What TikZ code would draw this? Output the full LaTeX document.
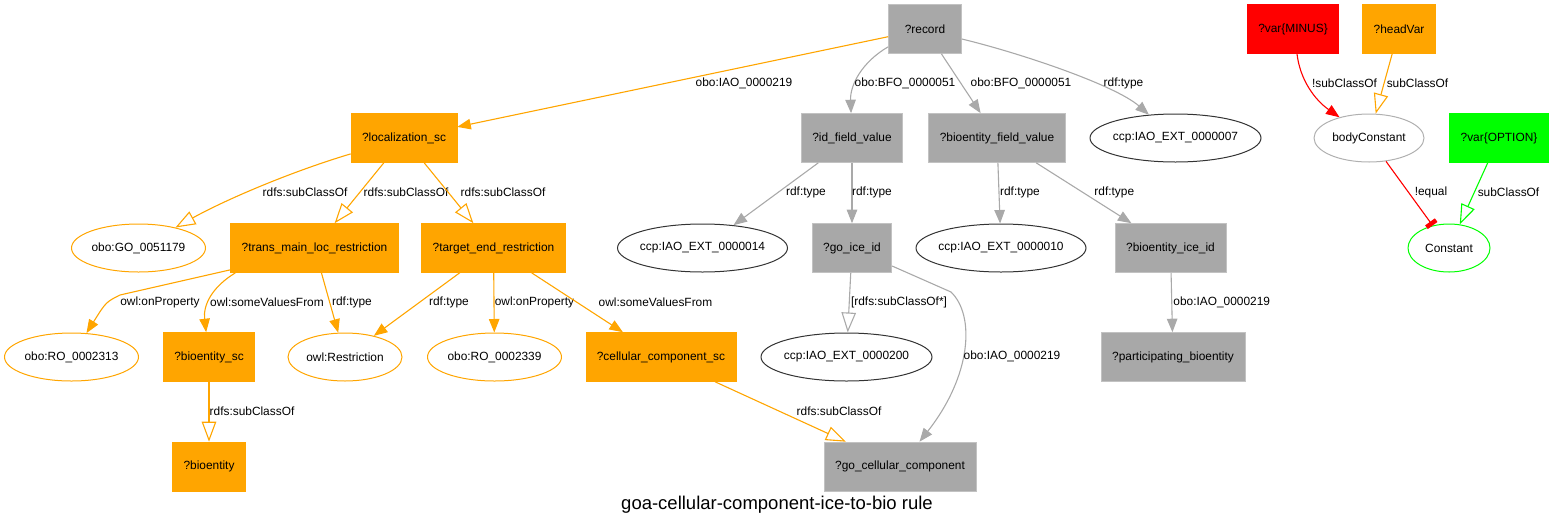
\documentclass[tikz,border=0pt]{standalone}
\usepackage{fontspec}
\setmainfont{Liberation Sans}
\usepackage{xcolor}
\usetikzlibrary{shapes.geometric,arrows.meta,positioning,calc}

\definecolor{nodeorange}{HTML}{FFA500}
\definecolor{nodegray}{HTML}{A8A8A8}
\definecolor{edgegray}{HTML}{A9A9A9}
\definecolor{ovaldark}{HTML}{333333}
\definecolor{ovallight}{HTML}{B0B0B0}
\definecolor{nodegreen}{HTML}{00FF00}
\definecolor{nodered}{HTML}{FF0000}

\tikzset{
  box/.style={rectangle, minimum width=73pt, minimum height=49pt, inner xsep=11pt, line width=0.6pt},
  obox/.style={box, fill=nodeorange, draw=nodeorange},
  gbox/.style={box, fill=nodegray, draw=nodegray!70!white},
  oval/.style={ellipse, minimum height=48pt, inner sep=0pt, line width=1pt,
    execute at begin node={\hbox to 0pt\bgroup\hss}, execute at end node={\hss\egroup}},
  oell/.style={oval, draw=nodeorange},
  kell/.style={oval, draw=ovaldark},
  lbl/.style={inner sep=0pt},
  oedge/.style={draw=nodeorange, line width=1.1pt},
  gedge/.style={draw=edgegray, line width=1.1pt},
  redge/.style={draw=nodered, line width=1.1pt},
  grnedge/.style={draw=nodegreen, line width=1.1pt},
  tri/.style={-{Triangle[length=13.5pt,width=10.5pt]}},
  otri/.style={-{Triangle[open,length=20pt,width=14.5pt]}},
  teebar/.style={-{Bar[width=12pt,line width=4.5pt]}}
}

\begin{document}
\begin{tikzpicture}[x=1pt,y=-1pt, every node/.style={font=\fontsize{11.9}{14}\selectfont, text=black}]
        \useasboundingbox (0,0) rectangle (1555,528);

        % top row
        \node[gbox] (rec) at (925,29) {?record};
        \node[box, fill=nodered, draw=nodered] (minus) at (1293,29) {?var\{MINUS\}};
        \node[obox] (headvar) at (1399,29) {?headVar};

        % second row
        \node[obox] (locsc) at (404,138) {?localization\_sc};
        \node[gbox] (idfv) at (852,138) {?id\_field\_value};
        \node[gbox] (biofv) at (997,138) {?bioentity\_field\_value};
        \node[kell, minimum width=171pt] (ccp7) at (1175.5,138) {ccp:IAO\_EXT\_0000007};
        \node[oval, draw=ovallight, minimum width=110pt] (bodyc) at (1369,138) {bodyConstant};
        \node[box, fill=nodegreen, draw=nodegreen] (option) at (1499,138) {?var\{OPTION\}};

        % third row
        \node[oell, minimum width=134pt] (go179) at (138.5,248) {obo:GO\_0051179};
        \node[obox] (transr) at (314.5,248) {?trans\_main\_loc\_restriction};
        \node[obox] (targetr) at (493.5,248) {?target\_end\_restriction};
        \node[kell, minimum width=170pt] (ccp14) at (702.5,248) {ccp:IAO\_EXT\_0000014};
        \node[gbox] (goice) at (852,248) {?go\_ice\_id};
        \node[kell, minimum width=170pt] (ccp10) at (1001,248) {ccp:IAO\_EXT\_0000010};
        \node[gbox] (bioice) at (1170.5,248) {?bioentity\_ice\_id};
        \node[oval, draw=nodegreen, minimum width=82pt] (constant) at (1449,248) {Constant};

        % fourth row
        \node[oell, minimum width=134pt] (ro2313) at (71.5,357) {obo:RO\_0002313};
        \node[obox] (biosc) at (209,357) {?bioentity\_sc};
        \node[oell, minimum width=114pt] (restr) at (345,357) {owl:Restriction};
        \node[oell, minimum width=134pt] (ro2339) at (494.5,357) {obo:RO\_0002339};
        \node[obox] (cellsc) at (661,357) {?cellular\_component\_sc};
        \node[kell, minimum width=171pt] (ccp200) at (846.5,357) {ccp:IAO\_EXT\_0000200};
        \node[gbox] (partbio) at (1173,357) {?participating\_bioentity};

        % bottom row
        \node[obox] (bioent) at (209,466.5) {?bioentity};
        \node[gbox] (gocc) at (900,466.5) {?go\_cellular\_component};
        \node[font=\fontsize{18.5}{22}\selectfont] (title) at (777,505) {goa-cellular-component-ice-to-bio rule};

        % orange edges
        \draw[oedge,tri] (rec) -- (locsc) node[lbl] at (744,83) {obo:IAO\_0000219};
        \draw[oedge,otri] (locsc) .. controls (290,172) and (225,200) .. (go179) node[lbl] at (305,192) {rdfs:subClassOf};
        \draw[oedge,otri] (locsc) -- (transr) node[lbl] at (406,192) {rdfs:subClassOf};
        \draw[oedge,otri] (locsc) -- (targetr) node[lbl] at (503,192) {rdfs:subClassOf};
        \draw[oedge,tri] ([yshift=3pt]transr.south west) -- (120,295) .. controls (106,302) .. (ro2313) node[lbl] at (160,302) {owl:onProperty};
        \draw[oedge,tri] ([xshift=5pt]transr.south west) .. controls (212,287) and (203,305) .. (biosc) node[lbl] at (267,302) {owl:someValuesFrom};
        \draw[oedge,tri] (transr) -- (restr) node[lbl] at (352,302) {rdf:type};
        \draw[oedge,tri] (targetr) -- (restr) node[lbl] at (449,302) {rdf:type};
        \draw[oedge,tri] (targetr) -- (ro2339) node[lbl] at (534.5,302) {owl:onProperty};
        \draw[oedge,tri] (targetr) -- (cellsc) node[lbl] at (655.5,302) {owl:someValuesFrom};
        \draw[oedge,otri] (biosc) -- (bioent) node[lbl] at (252,411) {rdfs:subClassOf};
        \draw[oedge,otri] (cellsc) -- (gocc) node[lbl] at (839,411) {rdfs:subClassOf};

        % gray edges
        \draw[gedge,tri] ([yshift=7pt]rec.south west) .. controls (862,62) and (850,85) .. (idfv) node[lbl] at (905,83) {obo:BFO\_0000051};
        \draw[gedge,tri] (rec) -- (biofv) node[lbl] at (1021,83) {obo:BFO\_0000051};
        \draw[gedge,tri] ([yshift=-10pt]rec.east) .. controls (1020,53) and (1115,85) .. (ccp7) node[lbl] at (1123.5,83) {rdf:type};
        \draw[gedge,tri] (idfv) -- (ccp14) node[lbl] at (806,192) {rdf:type};
        \draw[gedge,tri] (idfv) -- (goice) node[lbl] at (872,192) {rdf:type};
        \draw[gedge,tri] (biofv) -- (ccp10) node[lbl] at (1020,192) {rdf:type};
        \draw[gedge,tri] (biofv) -- (bioice) node[lbl] at (1114.3,192) {rdf:type};
        \draw[gedge,otri] (goice) -- (ccp200) node[lbl] at (899,302) {[rdfs:subClassOf*]};
        \draw[gedge,tri] ([yshift=-18pt]goice.east) -- (951,292) .. controls (975,315) and (972,375) .. (gocc) node[lbl] at (1012,356) {obo:IAO\_0000219};
        \draw[gedge,tri] (bioice) -- (partbio) node[lbl] at (1221.7,302) {obo:IAO\_0000219};

        % rule constraints
        \draw[redge,tri] ([xshift=4pt]minus.south) .. controls (1300,80) and (1315,100) .. (bodyc) node[lbl] at (1344.5,83) {!subClassOf};
        \draw[oedge,otri] (headvar) -- (bodyc) node[lbl] at (1417.5,83) {subClassOf};
        \draw[redge,teebar] (bodyc) -- (constant) node[lbl] at (1431,192) {!equal};
        \draw[grnedge,otri] (option) -- (constant) node[lbl] at (1508.5,192) {subClassOf};
    \end{tikzpicture}
\end{document}
